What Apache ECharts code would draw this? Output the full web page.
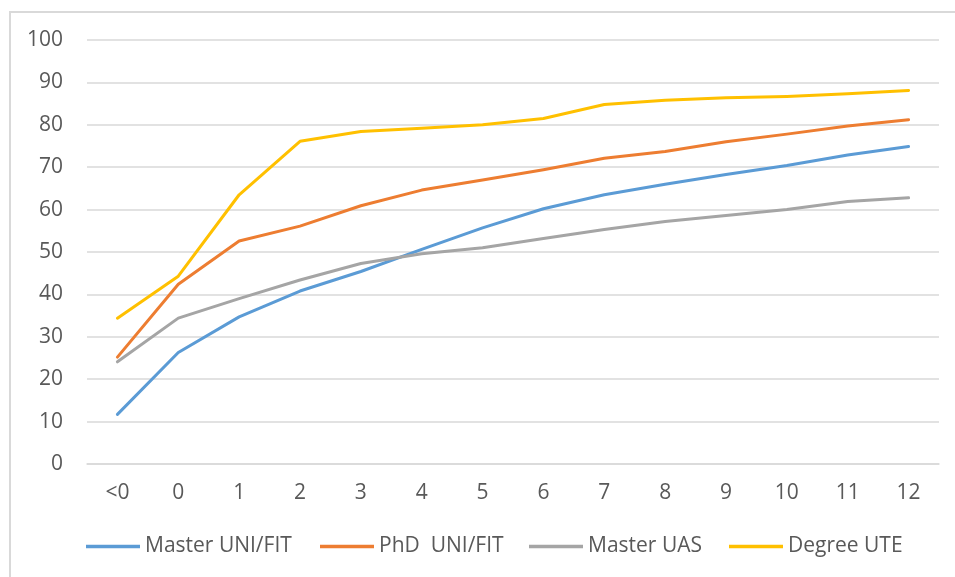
<!DOCTYPE html>
<html>
<head>
<meta charset="utf-8">
<script src="https://cdn.jsdelivr.net/npm/echarts@6/dist/echarts.min.js"></script>
<style>
  html, body { margin: 0; padding: 0; background: #ffffff; }
  #chart { width: 955px; height: 577px; }
</style>
</head>
<body>
<div id="chart"></div>
<script>
// Years since graduation
const categories = ['<0', '0', '1', '2', '3', '4', '5', '6', '7', '8', '9', '10', '11', '12'];

const seriesNames = ['Master UNI/FIT', 'PhD  UNI/FIT', 'Master UAS', 'Degree UTE'];

const masterUniFit = [11.7, 26.3, 34.7, 40.8, 45.4, 50.6, 55.7, 60.2, 63.5, 66.0, 68.3, 70.4, 72.9, 74.9];
const phdUniFit    = [25.2, 42.4, 52.6, 56.1, 60.9, 64.6, 67.0, 69.4, 72.1, 73.7, 76.0, 77.8, 79.7, 81.2];
const masterUas    = [24.1, 34.4, 39.0, 43.4, 47.3, 49.6, 51.0, 53.2, 55.3, 57.2, 58.6, 60.0, 61.9, 62.8];
const degreeUte    = [34.4, 44.3, 63.5, 76.1, 78.4, 79.2, 80.0, 81.5, 84.8, 85.8, 86.4, 86.7, 87.3, 88.1];

const yTicks = { min: 0, max: 100, interval: 10 };

const colors = ['#5B9BD5', '#ED7D31', '#A5A5A5', '#FFC000'];
const values = [masterUniFit, phdUniFit, masterUas, degreeUte];

const textColor = '#595959';
const fontFamily = 'Open Sans, Liberation Sans, sans-serif';
const fontSize = 21;

// one legend entry per block so each sits at its own left offset
const legendLefts = [86, 320, 529, 729];

const chart = echarts.init(document.getElementById('chart'), null, { renderer: 'canvas' });

chart.setOption({
  animation: false,
  backgroundColor: '#ffffff',
  color: colors,
  graphic: [{
    type: 'rect',
    shape: { x: 10, y: 12, width: 980, height: 620 },
    style: { fill: 'none', stroke: '#d9d9d9', lineWidth: 2 },
    silent: true,
    z: -1
  }],
  grid: { left: 87, right: 16, top: 40, bottom: 113, containLabel: false },
  legend: seriesNames.map((name, i) => ({
    left: legendLefts[i],
    top: 536,
    padding: 0,
    itemWidth: 54,
    itemHeight: 24,
    icon: 'path://M0,10.3 L54,10.3 L54,13.7 L0,13.7 Z',
    textStyle: { color: textColor, fontSize: fontSize, fontFamily: fontFamily, padding: [0, 0, 0, 0] },
    data: [name]
  })),
  xAxis: {
    type: 'category',
    data: categories,
    boundaryGap: true,
    axisLine: { show: true, lineStyle: { color: '#d9d9d9', width: 1.5 } },
    axisTick: { show: false },
    axisLabel: { color: textColor, fontSize: fontSize, fontFamily: fontFamily, margin: 19 },
    splitLine: { show: false }
  },
  yAxis: {
    type: 'value',
    min: yTicks.min,
    max: yTicks.max,
    interval: yTicks.interval,
    axisLine: { show: false },
    axisTick: { show: false },
    axisLabel: { color: textColor, fontSize: fontSize, fontFamily: fontFamily, margin: 24 },
    splitLine: { show: true, lineStyle: { color: '#d9d9d9', width: 1.5 } }
  },
  series: seriesNames.map((name, i) => ({
    name: name,
    type: 'line',
    data: values[i],
    symbol: 'none',
    lineStyle: { width: 3, color: colors[i], cap: 'round', join: 'round' },
    itemStyle: { color: colors[i] },
    z: 2
  }))
});
</script>
</body>
</html>
